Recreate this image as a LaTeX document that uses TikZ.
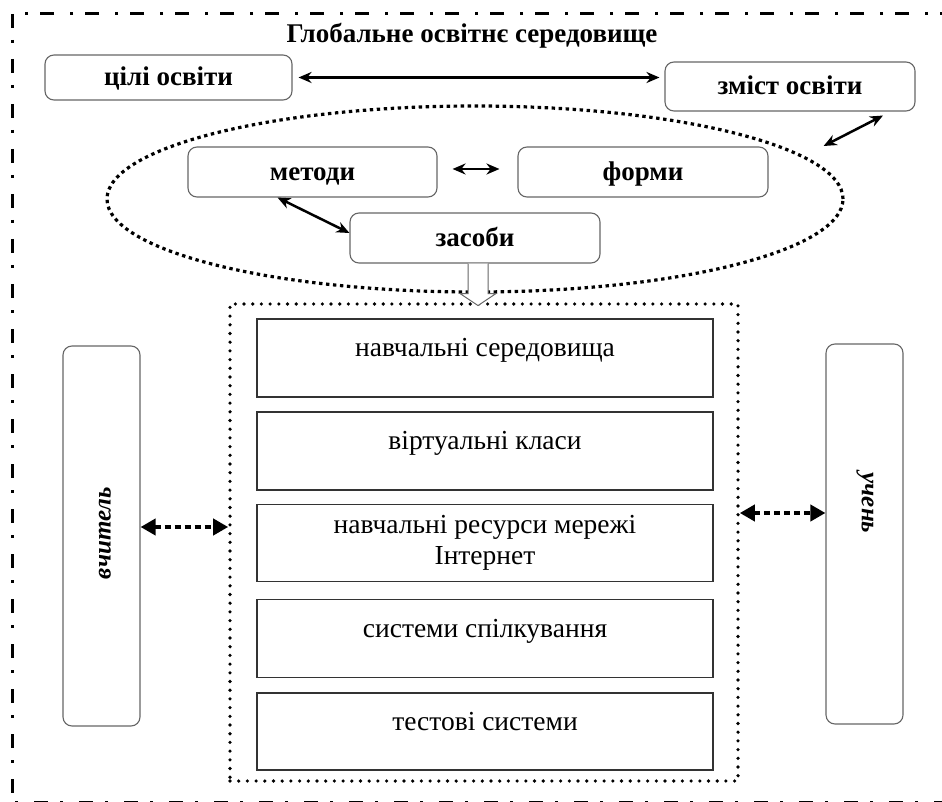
\documentclass[tikz,border=0pt]{standalone}
\usepackage{fontspec}
\setmainfont{Liberation Serif}
\usetikzlibrary{shapes.geometric,arrows.meta,calc}
\begin{document}
\begin{tikzpicture}[x=1pt,y=-1pt,
  rbox/.style={draw=black!60,line width=1.1pt,rounded corners=9pt,fill=white,inner sep=0pt,font=\fontsize{27}{30}\selectfont\bfseries},
  tcenter/.style={text height=23pt,text depth=6pt},
  sbox/.style={draw=black!80,line width=1.2pt,fill=white,inner sep=0pt,minimum width=456pt,font=\fontsize{27.5}{31}\selectfont,align=center},
  upshift/.style={text height=20pt,text depth=23pt},
  dbl/.style={{Stealth[length=13pt,width=11pt]}-{Stealth[length=13pt,width=11pt]},line width=2.5pt},
  dotarr/.style={{Triangle[length=15pt,width=16pt]}-{Triangle[length=15pt,width=16pt]},line width=4pt,dash pattern=on 6pt off 4pt},
  elldots/.style={line width=3.2pt,dash pattern=on 3.4pt off 3.6pt},
  grpdots/.style={line width=3.6pt,line cap=round,dash pattern=on 0pt off 8.7pt},
  vlabel/.style={font=\fontsize{25}{28}\selectfont\bfseries\itshape},
]
\useasboundingbox (0,0) rectangle (942,802);
% outer dash-dot frame
\draw[line width=3pt,dash pattern=on 14pt off 12pt on 3pt off 16pt] (12,14) rectangle (1000,802);
% title
\node[font=\fontsize{27}{30}\selectfont\bfseries] (title) at (472,36) {Глобальне освітнє середовище};
% ellipse
\node[ellipse,draw,elldots,minimum width=736pt,minimum height=186pt,inner sep=0pt] (ell) at (475,199) {};
% top boxes
\node[rbox,tcenter,minimum width=247pt,minimum height=45pt] (cili) at (168.5,77.5) {цілі освіти};
\node[rbox,tcenter,minimum width=250pt,minimum height=49pt] (zmist) at (790,86.5) {зміст освіти};
\node[rbox,tcenter,minimum width=249pt,minimum height=50pt] (metody) at (312.5,172) {методи};
\node[rbox,tcenter,minimum width=250pt,minimum height=50pt] (formy) at (643,172) {форми};
\node[rbox,tcenter,minimum width=250pt,minimum height=50pt] (zasoby) at (475,238) {засоби};
% arrows top
\draw[dbl] ([xshift=6pt]cili.east) -- ([xshift=-5pt]cili.east -| zmist.west);
\draw[dbl] ([xshift=15pt,yshift=3pt]metody.east) -- ([xshift=-18pt,yshift=3pt]formy.west);
\draw[dbl] ([xshift=-35pt]metody.south) -- ([yshift=5pt]zasoby.west);
\coordinate (ellpt) at ([xshift=-21pt,yshift=53pt]ell.east);
\draw[dbl] ([xshift=93pt,yshift=-4pt]zmist.south) -- (ellpt);
% group box
\node[draw,grpdots,minimum width=508pt,minimum height=477pt,inner sep=0pt] (grp) at (484,542.5) {};
% block arrow
\draw[draw=black!60,line width=1pt,fill=white,line join=miter] ([xshift=-7pt]zasoby.south) -- ++(0,30) -- ++(-8,0) -- ++(18,12) -- ++(18,-12) -- ++(-8,0) -- ++(0,-30);
% inner boxes
\node[sbox,upshift,minimum height=78pt] (r1) at (485,358) {навчальні середовища};
\node[sbox,upshift,minimum height=78pt] (r2) at (485,451) {віртуальні класи};
\node[sbox,minimum height=77pt] (r3) at (485,543) {навчальні ресурси мережі\\Інтернет};
\node[sbox,upshift,minimum height=78pt] (r4) at (485,638.5) {системи спілкування};
\node[sbox,upshift,minimum height=77pt] (r5) at (485,731.5) {тестові системи};
% side boxes
\node[rbox,minimum width=77pt,minimum height=380pt] (teach) at (101.5,536) {};
\node[vlabel,rotate=90] (teachlbl) at (105,533) {вчитель};
\node[rbox,minimum width=77pt,minimum height=380pt] (pupil) at (864.5,534) {};
\node[vlabel,rotate=-90] (pupillbl) at (865,503) {учень};
% dotted arrows
\draw[dotarr] ([yshift=9pt]teach.east) -- ([yshift=9pt]teach.east -| grp.west);
\draw[dotarr] ([yshift=29.5pt]grp.east) -- ([yshift=29.5pt]grp.east -| pupil.west);
\end{tikzpicture}
\end{document}
